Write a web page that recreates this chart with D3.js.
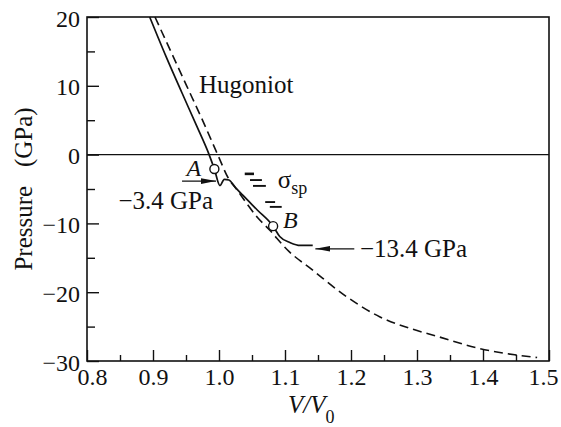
<!DOCTYPE html>
<html>
<head>
<meta charset="utf-8">
<script src="https://cdn.jsdelivr.net/npm/d3@7"></script>
<style>
  body { margin: 0; background: #fff; }
  svg text { font-family: "Liberation Serif", "Tinos", "Times New Roman", "DejaVu Serif", serif; fill: #111; }
</style>
</head>
<body>
<div id="chart"></div>
<script>
// Hugoniot (dashed), V/V0 vs pressure (GPa)
var hugoniotV = [0.903, 0.927, 0.951, 0.975, 0.998, 1.014, 1.027, 1.058, 1.077, 1.103, 1.142, 1.194, 1.244, 1.294, 1.33, 1.395, 1.448, 1.482];
var hugoniotP = [20, 15, 10, 5, 0, -3.4, -5.1, -9.1, -11.0, -13.8, -16.8, -20.7, -23.6, -25.4, -26.4, -28.2, -29.1, -29.5];

// loading / release path (solid)
var pathV = [0.895, 0.92, 0.944, 0.966, 0.985, 0.993, 1.0015, 1.008, 1.015, 1.025, 1.036, 1.058, 1.082, 1.092, 1.108, 1.123, 1.142];
var pathP = [20, 14.2, 8.95, 4.2, 0, -2.1, -4.5, -3.6, -3.7, -4.8, -5.9, -8.05, -10.4, -11.9, -12.8, -13.2, -13.2];

// marked states
var pointNames = ["A", "B"];
var pointV = [0.993, 1.082];
var pointP = [-2.1, -10.4];

// short bars next to sigma_sp: [V start, P, V end, weight]
var hatch = [[1.039, -2.8, 1.053, 2.6], [1.047, -3.7, 1.065, 1.9], [1.0515, -4.55, 1.071, 1.9], [1.070, -6.9, 1.085, 1.9], [1.077, -7.6, 1.095, 1.9]];

var xTicks = [0.8, 0.9, 1.0, 1.1, 1.2, 1.3, 1.4, 1.5];
var xMinor = [0.85, 0.95, 1.05, 1.15, 1.25, 1.35, 1.45];
var yTicks = [-30, -20, -10, 0, 10, 20];
var yMinor = [-25, -15, -5, 5, 15];

var margin = { top: 17, right: 12, bottom: 66, left: 87 };
var W = 561, H = 427;
var width = W - margin.left - margin.right;
var height = H - margin.top - margin.bottom;

var svg = d3.select("#chart").append("svg")
  .attr("width", W).attr("height", H)
  .append("g")
  .attr("transform", `translate(${margin.left},${margin.top})`);

var x = d3.scaleLinear().domain([0.8, 1.5]).range([0, width]);
var y = d3.scaleLinear().domain([-30, 20]).range([height, 0]);

var fs = 24;   // tick labels
var fa = 25;   // annotations and titles
var serif = "Liberation Serif, Tinos, Times New Roman, DejaVu Serif, serif";

// inward ticks, no domain lines (frame drawn below)
var xAxis = svg.append("g").attr("transform", `translate(0,${height})`)
  .call(d3.axisBottom(x).tickValues(xTicks).tickSizeInner(-11).tickSizeOuter(0).tickPadding(10).tickFormat(d3.format(".1f")));
svg.append("g").attr("transform", `translate(0,${height})`)
  .call(d3.axisBottom(x).tickValues(xMinor).tickSizeInner(-6).tickSizeOuter(0).tickFormat(""));
var yAxis = svg.append("g")
  .call(d3.axisLeft(y).tickValues(yTicks).tickSizeInner(-12).tickSizeOuter(0).tickPadding(7));
svg.append("g")
  .call(d3.axisLeft(y).tickValues(yMinor).tickSizeInner(-8).tickSizeOuter(0).tickFormat(""));

svg.selectAll(".domain").remove();
svg.selectAll("g").attr("font-family", serif);
svg.selectAll(".tick line").attr("stroke", "#111").attr("stroke-width", 1.4);
svg.selectAll(".tick text").attr("font-size", fs).attr("fill", "#111");
xAxis.selectAll(".tick text").attr("dy", "0.6em")
  .attr("dx", (d, i) => (i === 0 ? 5 : i === xTicks.length - 1 ? -6 : 0));
yAxis.selectAll(".tick text").attr("dy", "0.38em");

// frame
svg.append("rect")
  .attr("width", width).attr("height", height)
  .attr("fill", "none").attr("stroke", "#111").attr("stroke-width", 1.6);

// zero line
svg.append("line")
  .attr("x1", 0).attr("x2", width)
  .attr("y1", y(0)).attr("y2", y(0))
  .attr("stroke", "#111").attr("stroke-width", 1.2);

var line = d3.line()
  .x((d) => x(d[0]))
  .y((d) => y(d[1]))
  .curve(d3.curveMonotoneX);

svg.append("path")
  .datum(d3.zip(hugoniotV, hugoniotP))
  .attr("d", line)
  .attr("fill", "none").attr("stroke", "#111").attr("stroke-width", 1.6)
  .attr("stroke-dasharray", "9,5");

svg.append("path")
  .datum(d3.zip(pathV, pathP))
  .attr("d", line)
  .attr("fill", "none").attr("stroke", "#111").attr("stroke-width", 1.7);

svg.selectAll(".pt")
  .data(d3.zip(pointV, pointP))
  .enter().append("circle")
  .attr("class", "pt")
  .attr("cx", (d) => x(d[0])).attr("cy", (d) => y(d[1]))
  .attr("r", 4.5)
  .attr("fill", "#fff").attr("stroke", "#111").attr("stroke-width", 1.4);

// point labels
var labelOffsets = [[-28, 7], [10, 2]];
svg.selectAll(".ptlab")
  .data(pointNames)
  .enter().append("text")
  .attr("x", (d, i) => x(pointV[i]) + labelOffsets[i][0])
  .attr("y", (d, i) => y(pointP[i]) + labelOffsets[i][1])
  .attr("font-size", fs).attr("font-style", "italic")
  .text((d) => d);

// arrow marker
svg.append("defs").append("marker")
  .attr("id", "arrow")
  .attr("markerUnits", "userSpaceOnUse")
  .attr("viewBox", "0 0 16 6")
  .attr("markerWidth", 15).attr("markerHeight", 6)
  .attr("refX", 16).attr("refY", 3)
  .attr("orient", "auto")
  .append("path").attr("d", "M0,0L16,3L0,6z").attr("fill", "#111");

// -3.4 GPa arrow and label
svg.append("line")
  .attr("x1", x(0.944)).attr("x2", x(0.9955))
  .attr("y1", y(-3.85)).attr("y2", y(-3.85))
  .attr("stroke", "#111").attr("stroke-width", 1.4)
  .attr("marker-end", "url(#arrow)");
svg.append("text")
  .attr("x", x(0.991)).attr("y", y(-7.9))
  .attr("text-anchor", "end").attr("font-size", fa)
  .text("\u22123.4 GPa");

// -13.4 GPa arrow and label
svg.append("line")
  .attr("x1", x(1.205)).attr("x2", x(1.146))
  .attr("y1", y(-13.7)).attr("y2", y(-13.7))
  .attr("stroke", "#111").attr("stroke-width", 1.4)
  .attr("marker-end", "url(#arrow)");
svg.append("text")
  .attr("x", x(1.2135)).attr("y", y(-13.7) + 8)
  .attr("font-size", fa)
  .text("\u221213.4 GPa");

// spall-strength bars and sigma_sp
svg.selectAll(".hatch")
  .data(hatch)
  .enter().append("line")
  .attr("x1", (d) => x(d[0])).attr("x2", (d) => x(d[2]))
  .attr("y1", (d) => y(d[1])).attr("y2", (d) => y(d[1]))
  .attr("stroke", "#111").attr("stroke-width", (d) => d[3]);

var sig = svg.append("text")
  .attr("x", x(1.089)).attr("y", y(-4.85))
  .attr("font-size", fa);
sig.append("tspan").text("\u03c3");
sig.append("tspan").attr("font-size", 18).attr("dy", 6).text("sp");

svg.append("text")
  .attr("x", x(0.9697)).attr("y", y(8.95))
  .attr("font-size", fa)
  .text("Hugoniot");

// axis titles
svg.append("text")
  .attr("transform", `translate(${-55},${172}) rotate(-90)`)
  .attr("text-anchor", "middle").attr("font-size", fa)
  .style("white-space", "pre")
  .text("Pressure   (GPa)");

var xt = svg.append("text")
  .attr("x", width / 2 - 30).attr("y", height + 52)
  .attr("font-size", fa);
xt.append("tspan").attr("font-style", "italic").text("V/V");
xt.append("tspan").attr("font-size", 18).attr("dy", 10).text("0");
</script>
</body>
</html>
